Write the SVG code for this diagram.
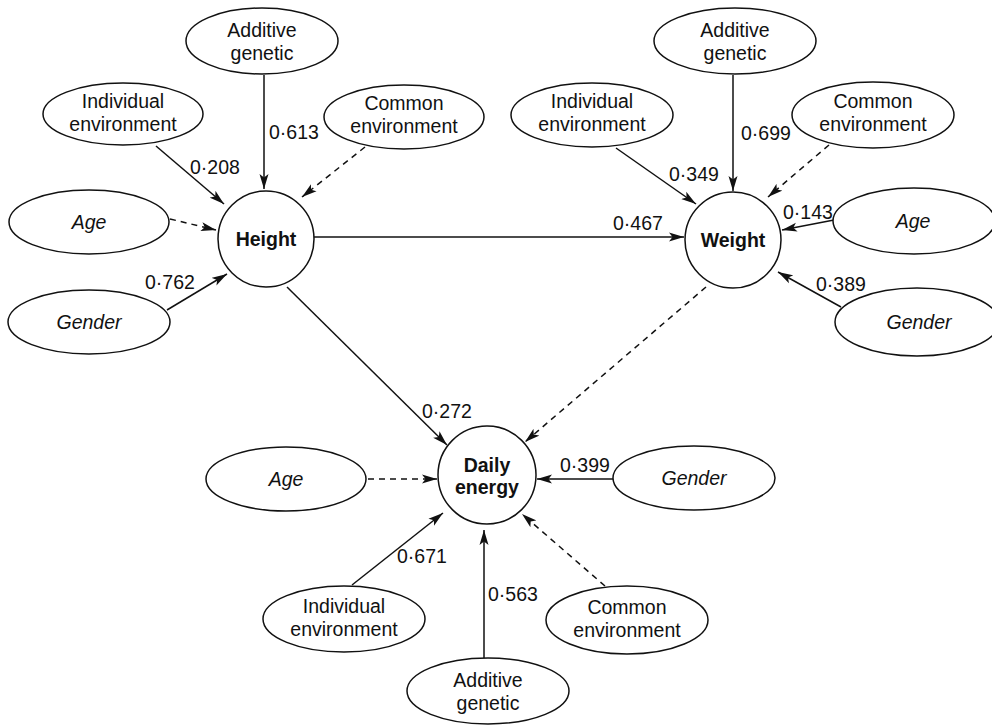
<svg xmlns="http://www.w3.org/2000/svg" width="992" height="726" viewBox="0 0 992 726">
<defs>
<style>
text{font-family:"Liberation Sans",Arial,sans-serif;font-size:19.5px;fill:#111;text-anchor:middle}
.lab{text-anchor:start}
.it{font-style:italic}
.b{font-weight:bold}
ellipse,circle{fill:#fff;stroke:#111;stroke-width:1.5}
.e line{stroke:#111;stroke-width:1.5;marker-end:url(#ah)}
.e line.d{stroke-dasharray:6 5}
</style>
<marker id="ah" viewBox="0 0 15 10" refX="15" refY="5" markerWidth="15" markerHeight="10" markerUnits="userSpaceOnUse" orient="auto">
<path d="M0,0.5 L15,5 L0,9.5 L3.5,5 Z" fill="#111"/>
</marker>
</defs>
<rect width="992" height="726" fill="#fff"/>
<g id="connectors" class="e">
<line x1="264" y1="75" x2="264" y2="189"/>
<line x1="156" y1="146" x2="224" y2="204"/>
<line class="d" x1="365" y1="147" x2="302" y2="197"/>
<line class="d" x1="170" y1="219" x2="216" y2="230"/>
<line x1="167" y1="310" x2="227" y2="274"/>
<line x1="314" y1="237" x2="684" y2="237"/>
<line x1="287" y1="287" x2="447" y2="445"/>
<line class="d" x1="706" y1="287" x2="525" y2="442"/>
<line x1="733" y1="75" x2="733" y2="191"/>
<line x1="616" y1="148" x2="696" y2="204"/>
<line class="d" x1="829" y1="145" x2="768" y2="197"/>
<line x1="834" y1="220" x2="782" y2="230"/>
<line x1="841" y1="307" x2="778" y2="272"/>
<line class="d" x1="368" y1="479" x2="437" y2="479"/>
<line x1="613" y1="479" x2="537" y2="479"/>
<line x1="352" y1="585" x2="443" y2="513"/>
<line x1="484" y1="658" x2="484" y2="530"/>
<line class="d" x1="605" y1="586" x2="522" y2="514"/>
</g>
<g id="edge-labels">
<text class="lab" x="269" y="139">0·613</text>
<text class="lab" x="190" y="174">0·208</text>
<text class="lab" x="145" y="289">0·762</text>
<text class="lab" x="613" y="230">0·467</text>
<text class="lab" x="422" y="418">0·272</text>
<text class="lab" x="741" y="140">0·699</text>
<text class="lab" x="669" y="181">0·349</text>
<text class="lab" x="783" y="219">0·143</text>
<text class="lab" x="816" y="291">0·389</text>
<text class="lab" x="560" y="472">0·399</text>
<text class="lab" x="397" y="563">0·671</text>
<text class="lab" x="488" y="601">0·563</text>
</g>
<g id="height"><circle cx="266" cy="239" r="48"/><text class="b" x="266" y="246">Height</text></g>
<g id="weight"><circle cx="733" cy="240" r="48"/><text class="b" x="733" y="247">Weight</text></g>
<g id="daily-energy"><circle cx="487" cy="475" r="49"/><text class="b" x="487" y="472">Daily</text><text class="b" x="487" y="494">energy</text></g>
<g id="h-additive"><ellipse cx="262" cy="41" rx="76" ry="33"/><text x="262" y="37">Additive</text><text x="262" y="60">genetic</text></g>
<g id="h-individual"><ellipse cx="123" cy="114" rx="80" ry="31"/><text x="123" y="108">Individual</text><text x="123" y="131">environment</text></g>
<g id="h-common"><ellipse cx="404" cy="117" rx="80" ry="32"/><text x="404" y="110">Common</text><text x="404" y="133">environment</text></g>
<g id="h-age"><ellipse cx="89" cy="222" rx="80" ry="32"/><text class="it" x="89" y="229">Age</text></g>
<g id="h-gender"><ellipse cx="89" cy="322" rx="81" ry="32"/><text class="it" x="89" y="329">Gender</text></g>
<g id="w-additive"><ellipse cx="735" cy="41" rx="81" ry="33"/><text x="735" y="37">Additive</text><text x="735" y="60">genetic</text></g>
<g id="w-individual"><ellipse cx="592" cy="115" rx="81" ry="32"/><text x="592" y="108">Individual</text><text x="592" y="131">environment</text></g>
<g id="w-common"><ellipse cx="873" cy="115" rx="81" ry="33"/><text x="873" y="108">Common</text><text x="873" y="131">environment</text></g>
<g id="w-age"><ellipse cx="914" cy="221" rx="81" ry="33"/><text class="it" x="913" y="228">Age</text></g>
<g id="w-gender"><ellipse cx="917" cy="322" rx="82" ry="34"/><text class="it" x="919" y="329">Gender</text></g>
<g id="d-age"><ellipse cx="286" cy="479" rx="80" ry="32"/><text class="it" x="286" y="486">Age</text></g>
<g id="d-gender"><ellipse cx="694" cy="478" rx="81" ry="32"/><text class="it" x="694" y="485">Gender</text></g>
<g id="d-individual"><ellipse cx="344" cy="619" rx="81" ry="33"/><text x="344" y="613">Individual</text><text x="344" y="636">environment</text></g>
<g id="d-common"><ellipse cx="627" cy="620" rx="81" ry="34"/><text x="627" y="614">Common</text><text x="627" y="637">environment</text></g>
<g id="d-additive"><ellipse cx="488" cy="691" rx="81" ry="33"/><text x="488" y="687">Additive</text><text x="488" y="710">genetic</text></g>
</svg>
